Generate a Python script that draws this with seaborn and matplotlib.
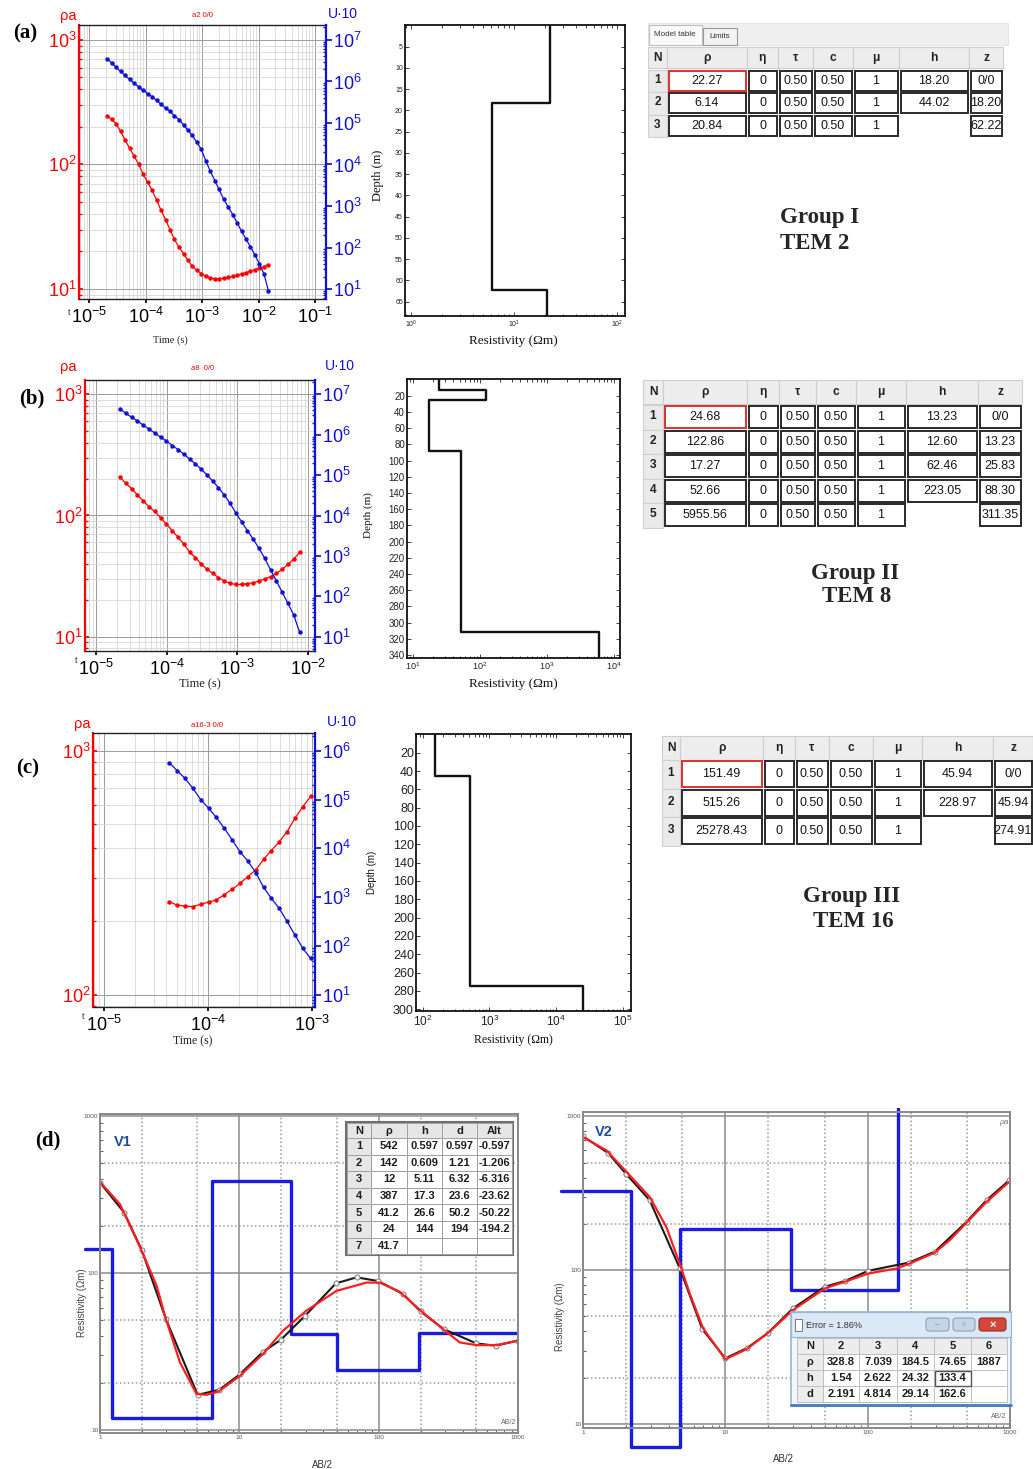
import numpy as np
import matplotlib
matplotlib.use("Agg")
import matplotlib.pyplot as plt
import seaborn as sns
from matplotlib import font_manager
from matplotlib.patches import Rectangle, FancyBboxPatch
from matplotlib.ticker import (LogLocator, LogFormatterMathtext, NullFormatter,
                               FixedLocator, FuncFormatter)
from matplotlib.transforms import Bbox, TransformedBbox

W, H = 1033, 1469

# ---- TEM sounding curves: time (s), apparent resistivity, U*10 ----
t_a = [2.1e-5, 2.5e-5, 3.0e-5, 3.6e-5, 4.3e-5, 5.2e-5, 6.2e-5, 7.5e-5, 9.0e-5, 1.08e-4,
       1.3e-4, 1.56e-4, 1.87e-4, 2.25e-4, 2.7e-4, 3.2e-4, 3.9e-4, 4.7e-4, 5.6e-4, 6.7e-4,
       8.1e-4, 9.7e-4, 1.17e-3, 1.4e-3, 1.68e-3, 2.0e-3, 2.4e-3, 2.9e-3, 3.5e-3, 4.2e-3,
       5.0e-3, 6.0e-3, 7.2e-3, 8.7e-3, 1.04e-2, 1.25e-2, 1.5e-2]
rho_a = [243, 231, 212, 184, 158, 135, 117, 101, 84, 72,
         62, 52, 43, 36, 30, 25.2, 21.7, 19.2, 17.0, 15.2,
         14.1, 13.3, 12.6, 12.3, 12.0, 12.0, 12.2, 12.4, 12.6, 12.9,
         13.2, 13.5, 13.9, 14.3, 14.7, 15.1, 15.7]
u_a = [3.5e6, 2.8e6, 2.2e6, 1.74e6, 1.40e6, 1.12e6, 9.1e5, 7.4e5, 6.2e5, 5.1e5,
       4.3e5, 3.5e5, 2.8e5, 2.3e5, 1.9e5, 1.5e5, 1.21e5, 9.0e4, 6.7e4, 5.0e4,
       3.4e4, 2.3e4, 1.2e4, 6.9e3, 4.1e3, 2.5e3, 1.48e3, 950, 620, 390,
       246, 161, 103, 65, 40, 23, 9]

t_b = [2.19e-5, 2.64e-5, 3.19e-5, 3.85e-5, 4.66e-5, 5.62e-5, 6.79e-5, 8.20e-5, 9.91e-5, 1.20e-4,
       1.45e-4, 1.75e-4, 2.11e-4, 2.55e-4, 3.08e-4, 3.72e-4, 4.49e-4, 5.42e-4, 6.55e-4, 7.91e-4,
       9.55e-4, 1.15e-3, 1.39e-3, 1.68e-3, 2.03e-3, 2.45e-3, 2.96e-3, 3.58e-3, 4.33e-3, 5.22e-3,
       6.31e-3, 7.62e-3]
rho_b = [207, 184, 167, 148, 132, 118, 108, 96, 85, 75,
         66, 58, 50, 45, 40, 36, 33.3, 30.7, 28.8, 27.5,
         27.0, 27.0, 27.4, 27.9, 28.8, 29.9, 31.3, 33.3, 36, 39.5,
         43.7, 49.7]
u_b = [4.3e6, 3.4e6, 2.7e6, 2.2e6, 1.73e6, 1.38e6, 1.10e6, 8.7e5, 7.0e5, 5.4e5,
       4.3e5, 3.3e5, 2.5e5, 1.9e5, 1.41e5, 1.02e5, 7.1e4, 4.9e4, 3.2e4, 2.0e4,
       1.15e4, 7.0e3, 4.2e3, 2.6e3, 1.54e3, 870, 450, 240, 125, 67,
       34, 13]

t_c = [4.26e-5, 5.07e-5, 6.04e-5, 7.18e-5, 8.55e-5, 1.02e-4, 1.21e-4, 1.44e-4, 1.72e-4, 2.04e-4,
       2.43e-4, 2.90e-4, 3.45e-4, 4.10e-4, 4.89e-4, 5.81e-4, 6.92e-4, 8.24e-4, 9.81e-4]
rho_c = [241, 233, 231, 230, 235, 240, 245, 257, 271, 286,
         305, 325, 359, 390, 424, 466, 528, 590, 649]
u_c = [5.7e5, 3.9e5, 2.7e5, 1.7e5, 1.0e5, 6.6e4, 4.3e4, 2.6e4, 1.49e4, 8.6e3,
       5.5e3, 3.2e3, 1.6e3, 950, 590, 320, 169, 90, 56]

# ---- layered models (model tables) ----
tem2_rho = [22.27, 6.14, 20.84]
tem2_h = [18.20, 44.02]
tem2_z = [0.0, 18.20, 62.22]

tem8_rho = [24.68, 122.86, 17.27, 52.66, 5955.56]
tem8_h = [13.23, 12.60, 62.46, 223.05]
tem8_z = [0.0, 13.23, 25.83, 88.30, 311.35]

tem16_rho = [151.49, 515.26, 25278.43]
tem16_h = [45.94, 228.97]
tem16_z = [0.0, 45.94, 274.91]

ETA, TAU, CC, MU = 0, 0.50, 0.50, 1

# ---- VES V1 ----
v1_ab_obs = [1.0, 1.49, 1.99, 2.97, 5.02, 7.18, 10.1, 14.7, 19.9, 29.7,
             49.3, 69.4, 99.3, 150, 200, 293, 502, 692, 1000]
v1_rho_obs = [377, 243, 141, 51, 16.8, 18.1, 22.7, 31.4, 37.7, 53.6,
              86, 94, 89, 73.5, 57, 44, 35.7, 34.5, 37.2]
v1_ab_fit = [1.0, 1.39, 1.99, 2.55, 2.97, 3.75, 4.93, 5.82, 7.07, 10.1, 14.8, 20.6,
             30.3, 49.7, 81.7, 102, 142, 200, 290, 382, 502, 700, 1000]
v1_rho_fit = [380, 275, 139, 83, 51, 27, 17, 16.8, 17.6, 22.2, 30.6, 43,
              57.7, 77, 87, 87, 76, 57.7, 44, 36.2, 34.8, 34.8, 37.2]
v1_rho = [542, 142, 12, 387, 41.2, 24, 41.7]
v1_h = [0.597, 0.609, 5.11, 17.3, 26.6, 144]
v1_d = [0.597, 1.21, 6.32, 23.6, 50.2, 194]
v1_alt = [-0.597, -1.206, -6.316, -23.62, -50.22, -194.2]
v1_step_start = 0.78

# ---- VES V2 ----
v2_ab_obs = [1.0, 1.50, 2.0, 2.94, 4.78, 6.90, 10.0, 14.1, 19.8, 29.9,
             50, 69.2, 101, 196, 297, 495, 685, 988]
v2_rho_obs = [741, 578, 424, 285, 103, 41.2, 26.7, 31, 38.8, 56.4,
              78, 84.9, 99, 112, 132, 206, 285, 384]
v2_ab_fit = [1.0, 1.46, 2.02, 2.94, 3.85, 4.78, 5.62, 6.98, 10.0, 14.1, 20.5,
             29.9, 50, 69.2, 101, 160, 196, 297, 378, 495, 685, 988]
v2_rho_fit = [734, 601, 435, 299, 191, 110, 70.5, 41.8, 26.3, 30.6, 39.8,
              55, 76, 84, 95, 102.5, 110, 130, 157, 203, 278, 375]
v2_rho = [328.8, 7.039, 184.5, 74.65, 1887]
v2_h = [1.54, 2.622, 24.32, 133.4]
v2_d = [2.191, 4.814, 29.14, 162.6]
v2_step_start = 0.70
v2_error = 1.86

# ---------------- style ----------------
sns.set_theme(style="white")
plt.rcParams["font.family"] = ["Liberation Sans", "DejaVu Sans"]
plt.rcParams["mathtext.fontset"] = "custom"
plt.rcParams["mathtext.rm"] = "Liberation Sans"
plt.rcParams["mathtext.it"] = "Liberation Sans:italic"
plt.rcParams["mathtext.bf"] = "Liberation Sans:bold"
SERIF = ["Liberation Serif", "DejaVu Serif"]
names = {f.name for f in font_manager.fontManager.ttflist}
if "Liberation Sans Narrow" in names:
    NARROW, NK = ["Liberation Sans Narrow", "DejaVu Sans"], 1.25
else:
    NARROW, NK = ["Liberation Sans", "DejaVu Sans"], 1.1

RED = "#ff0000"
BLUE = "#1010d8"
STEP_BLUE = "#1a1ae0"

fig = plt.figure(figsize=(W / 100, H / 100), dpi=100)


def px_axes(x0, y0, x1, y1, **kw):
    return fig.add_axes([x0 / W, 1 - y1 / H, (x1 - x0) / W, (y1 - y0) / H], **kw)


def decades(lim):
    lo, hi = np.log10(lim[0]), np.log10(lim[1])
    return [10.0 ** k for k in range(int(np.ceil(lo)), int(np.floor(hi)) + 1)]


ov = px_axes(0, 0, W, H, zorder=20)
ov.set_xlim(0, W)
ov.set_ylim(H, 0)
ov.axis("off")
ov.patch.set_alpha(0)


def tem_panel(box, t, rho, u, xlim, rho_lim, u_lim, fs=13):
    ax = px_axes(*box)
    ax.set_xscale("log")
    ax.set_yscale("log")
    ax2 = ax.twinx()
    ax2.set_yscale("log")
    sns.lineplot(x=t, y=rho, ax=ax, color=RED, linewidth=0.9, marker="o",
                 markersize=3.2, markeredgewidth=0)
    sns.lineplot(x=t, y=u, ax=ax2, color=BLUE, linewidth=0.9, marker="o",
                 markersize=3.2, markeredgewidth=0)
    ax.set_xlim(xlim)
    ax.set_ylim(rho_lim)
    ax2.set_ylim(u_lim)
    for a, lim in ((ax.xaxis, xlim), (ax.yaxis, rho_lim), (ax2.yaxis, u_lim)):
        a.set_major_locator(FixedLocator(decades(lim)))
        a.set_minor_locator(LogLocator(10, subs=np.arange(2, 10), numticks=30))
        a.set_major_formatter(LogFormatterMathtext())
        a.set_minor_formatter(NullFormatter())
    ax.set_axisbelow(True)
    ax.grid(True, which="major", color="#9c9c9c", linewidth=0.7)
    ax.grid(True, which="minor", color="#d3d3d3", linewidth=0.55)
    ax.tick_params(axis="x", which="major", bottom=True, length=3, labelsize=fs,
                   pad=3, colors="black")
    ax.tick_params(axis="x", which="minor", bottom=False)
    ax.tick_params(axis="y", which="both", left=True, colors=RED, direction="in")
    ax.tick_params(axis="y", which="major", length=3, labelsize=fs, pad=2)
    ax.tick_params(axis="y", which="minor", length=2)
    ax2.tick_params(axis="y", which="both", right=True, left=False, colors=BLUE)
    ax2.tick_params(axis="y", which="major", length=4, labelsize=fs, pad=1,
                    direction="out")
    ax2.tick_params(axis="y", which="minor", length=2, direction="in")
    for s in ("top", "bottom"):
        ax.spines[s].set_color("#222222")
        ax.spines[s].set_linewidth(1.0)
    ax.spines["left"].set_color(RED)
    ax.spines["left"].set_linewidth(1.6)
    ax.spines["right"].set_visible(False)
    ax2.spines["right"].set_color(BLUE)
    ax2.spines["right"].set_linewidth(1.6)
    for s in ("left", "top", "bottom"):
        ax2.spines[s].set_visible(False)
    ax.set_xlabel("")
    ax.set_ylabel("")
    ax2.set_ylabel("")
    return ax


def model_panel(box, rho, z, xlim, ylim, xticks, yticks, fs, xfs):
    ax = px_axes(*box)
    ax.set_xscale("log")
    xs, ys = [], []
    for i, r in enumerate(rho):
        bottom = z[i + 1] if i + 1 < len(z) else ylim[0]
        xs += [r, r]
        ys += [z[i], bottom]
    sns.lineplot(x=xs, y=ys, ax=ax, sort=False, estimator=None, color="#111111",
                 linewidth=1.7)
    ax.set_xlim(xlim)
    ax.set_ylim(ylim)
    ax.xaxis.set_major_locator(FixedLocator(xticks))
    ax.xaxis.set_major_formatter(LogFormatterMathtext())
    ax.xaxis.set_minor_locator(LogLocator(10, subs=np.arange(2, 10), numticks=30))
    ax.xaxis.set_minor_formatter(NullFormatter())
    ax.set_yticks(yticks)
    ax.tick_params(which="both", direction="in", top=True, right=True, bottom=True,
                   left=True, colors="#222222", width=0.6)
    ax.tick_params(which="major", length=3, pad=1.5)
    ax.tick_params(which="minor", length=1.8)
    ax.tick_params(axis="y", labelsize=fs)
    ax.tick_params(axis="x", labelsize=xfs, pad=2)
    for s in ax.spines.values():
        s.set_color("#111111")
        s.set_linewidth(1.3)
    ax.set_xlabel("")
    ax.set_ylabel("")
    return ax


def ves_panel(box, ylim, ab_obs, rho_obs, ab_fit, rho_fit, step_x, step_rho):
    ax = px_axes(*box)
    ax.set_xscale("log")
    ax.set_yscale("log")
    for dec in (1, 10, 100):
        for s in (2, 5):
            ax.axvline(dec * s, color="#9a9a9a", linewidth=1.1, linestyle=(0, (1, 1.6)),
                       zorder=0)
    for dec in (10, 100):
        for s in (2, 5):
            ax.axhline(dec * s, color="#9a9a9a", linewidth=1.1, linestyle=(0, (1, 1.6)),
                       zorder=0)
    ax.set_axisbelow(True)
    ax.grid(True, which="major", color="#8c8c8c", linewidth=1.1)
    sns.lineplot(x=step_x, y=step_rho, ax=ax, sort=False, estimator=None,
                 drawstyle="steps-post", color=STEP_BLUE, linewidth=2.4)
    blue = ax.lines[-1]
    blue.set_clip_box(TransformedBbox(Bbox([[-0.08, -0.12], [1.0, 1.012]]), ax.transAxes))
    sns.lineplot(x=ab_obs, y=rho_obs, ax=ax, sort=False, estimator=None,
                 color="#1a1a1a", linewidth=1.5, marker="o", markersize=3.6,
                 markerfacecolor="white", markeredgecolor="#858585",
                 markeredgewidth=0.8)
    sns.lineplot(x=ab_fit, y=rho_fit, ax=ax, sort=False, estimator=None,
                 color="#ff1f1f", linewidth=1.6)
    ax.set_xlim(1, 1000)
    ax.set_ylim(ylim)
    fmt = FuncFormatter(lambda v, _: f"{v:g}")
    ax.xaxis.set_major_locator(FixedLocator([1, 10, 100, 1000]))
    ax.yaxis.set_major_locator(FixedLocator([10, 100, 1000]))
    ax.xaxis.set_major_formatter(fmt)
    ax.yaxis.set_major_formatter(fmt)
    for a in (ax.xaxis, ax.yaxis):
        a.set_minor_locator(LogLocator(10, subs=np.arange(2, 10), numticks=30))
        a.set_minor_formatter(NullFormatter())
    ax.tick_params(which="major", labelsize=4.6, labelcolor="#555555", length=0, pad=1.2)
    ax.tick_params(which="minor", bottom=True, left=True, direction="in", length=2.5,
                   color="#666666", width=0.8)
    for s in ax.spines.values():
        s.set_color("#888888")
        s.set_linewidth(1.4)
    ax.set_xlabel("")
    ax.set_ylabel("")
    return ax


def tem_table(xe, y0, head_h, rows_y0, row_h, rho, h, z, fs):
    heads = ["N", "ρ", "η", "τ", "c", "μ", "h", "z"]
    for j, name in enumerate(heads):
        ov.add_patch(Rectangle((xe[j], y0), xe[j + 1] - xe[j], head_h,
                               facecolor="#ededed", edgecolor="#cdcdcd", linewidth=0.8))
        ov.text((xe[j] + xe[j + 1]) / 2, y0 + head_h / 2, name, ha="center",
                va="center", fontsize=fs * 0.95, fontweight="bold", color="#222222",
                family=NARROW)
    for i in range(len(rho)):
        ry = rows_y0 + i * row_h
        vals = [str(i + 1), f"{rho[i]:.2f}", f"{ETA}", f"{TAU:.2f}", f"{CC:.2f}",
                f"{MU}", f"{h[i]:.2f}" if i < len(h) else "",
                "0/0" if i == 0 else f"{z[i]:.2f}"]
        for j, v in enumerate(vals):
            x0, x1 = xe[j], xe[j + 1]
            if j == 0:
                ov.add_patch(Rectangle((x0, ry), x1 - x0, row_h, facecolor="#eaeaea",
                                       edgecolor="#d0d0d0", linewidth=0.8))
                ov.text((x0 + x1) / 2, ry + row_h / 2 - 1, v, ha="center", va="center",
                        fontsize=fs * 0.95, fontweight="bold", color="#222222")
                continue
            if v == "":
                continue
            ec = "#e03030" if (i == 0 and j == 1) else "#2a2a2a"
            ov.add_patch(Rectangle((x0 + 1.5, ry + 1), x1 - x0 - 3, row_h - 2.5,
                                   facecolor="white", edgecolor=ec, linewidth=1.4))
            ov.text((x0 + x1) / 2, ry + row_h / 2, v, ha="center", va="center",
                    fontsize=fs, color="#151515", family=NARROW)


def grid_table(xe, ye, cells, fs, head_fc="#e6e6e6", line="#a0a0a0"):
    for i in range(len(ye) - 1):
        for j in range(len(xe) - 1):
            fc = head_fc if (i == 0 or j == 0) else "white"
            ov.add_patch(Rectangle((xe[j], ye[i]), xe[j + 1] - xe[j], ye[i + 1] - ye[i],
                                   facecolor=fc, edgecolor=line, linewidth=0.7))
            ov.text((xe[j] + xe[j + 1]) / 2, (ye[i] + ye[i + 1]) / 2, cells[i][j],
                    ha="center", va="center", fontsize=fs, fontweight="bold",
                    color="#1e1e1e", family=NARROW)


# ---------------- (a) (b) (c): TEM curves ----------------
tem_panel((79, 25, 326, 299), t_a, rho_a, u_a, (6.6e-6, 0.157), (8.3, 1318), (5.75, 2.29e7))
tem_panel((85, 380, 315, 651), t_b, rho_b, u_b, (6.98e-6, 1.26e-2), (7.62, 1312), (4.43, 2.26e7))
tem_panel((93, 733, 315, 1007), t_c, rho_c, u_c, (7.83e-6, 1.08e-3), (89.3, 1180), (5.68, 2.30e6))

for (px, py, s) in [(25, 33, "(a)"), (32, 398, "(b)"), (28, 768, "(c)"), (48, 1140, "(d)")]:
    ov.text(px, py, s, ha="center", va="center", fontsize=15, fontweight="bold",
            family=SERIF, color="black")

for (ry, rx, tx, ty, title, ux, uy, tl, tlx, tly, tfs) in [
        (16, 68, 203, 15, "a2 0/0", 343, 14, (170, 340), 69, 312, 7.5),
        (367, 68, 203, 368, "a8  0/0", 340, 366, (200, 684), 76, 660, 9),
        (724, 82, 207, 725, "a16-3 0/0", 342, 722, (193, 1041), 83, 1016, 8.5)]:
    ov.text(rx, ry, "ρa", ha="center", va="center", fontsize=10.5, color=RED)
    ov.text(tx, ty, title, ha="center", va="center", fontsize=5.5, color=RED)
    ov.text(ux, uy, "U·10", ha="center", va="center", fontsize=10, color=BLUE)
    ov.text(tlx, tly, "t", ha="center", va="center", fontsize=6.5, color="#333333")
    ov.text(tl[0], tl[1], "Time (s)", ha="center", va="center", fontsize=tfs,
            family=SERIF, color="#222222")

# ---------------- model columns ----------------
model_panel((405, 25, 625, 316), tem2_rho, tem2_z, (0.875, 119.7), (68.4, -0.1),
            [1, 10, 100], list(range(5, 66, 5)), 5, 5)
model_panel((407, 379, 620, 658), tem8_rho, tem8_z, (8.13, 12300), (343.7, -0.6),
            [10, 100, 1000, 10000], list(range(20, 341, 20)), 7, 6.5)
model_panel((416, 734, 631, 1011), tem16_rho, tem16_z, (79.4, 131800), (301.9, -0.4),
            [100, 1000, 10000, 100000], list(range(20, 301, 20)), 9, 8.5)

for (dx, dy, dfs, dfam, rx, ryy, rfs) in [(378, 175, 9, SERIF, 513, 341, 9.5),
                                          (368, 515, 8, SERIF, 513, 684, 9.5),
                                          (372, 872, 7, ["Liberation Sans"], 513, 1040, 8.5)]:
    ov.text(dx, dy, "Depth (m)", rotation=90, ha="center", va="center", fontsize=dfs,
            family=dfam, color="#111111")
    ov.text(rx, ryy, "Resistivity (Ωm)", ha="center", va="center", fontsize=rfs,
            family=SERIF, color="#111111")

# ---------------- model tables ----------------
tfs = 8.2 * NK
ov.add_patch(Rectangle((648, 23), 360, 22, facecolor="#efefef", edgecolor="#e0e0e0",
                       linewidth=0.6))
ov.add_patch(Rectangle((649, 25), 53, 20, facecolor="#fafafa", edgecolor="#bdbdbd",
                       linewidth=0.8))
ov.add_patch(Rectangle((703, 28), 34, 17, facecolor="#f2f2f2", edgecolor="#9a9a9a",
                       linewidth=0.8))
ov.text(675, 34, "Model table", ha="center", va="center", fontsize=5.8, color="#333333")
ov.text(720, 36.5, "Limits", ha="center", va="center", fontsize=5.8, color="#333333")

tem_table([648, 667, 747, 778, 813, 853, 899, 969, 1003], 47, 21, 69.5, 22.5,
          tem2_rho, tem2_h, tem2_z, tfs)
tem_table([643, 663, 747, 779, 816, 856, 906, 978, 1022], 380, 24, 405, 24.5,
          tem8_rho, tem8_h, tem8_z, tfs)
tem_table([662, 680, 763, 795, 829, 873, 922, 993, 1033], 736, 24, 760, 28.5,
          tem16_rho, tem16_h, tem16_z, tfs)

gfs = 16.5
ov.text(780, 217, "Group I", ha="left", va="center", fontsize=gfs, fontweight="bold",
        family=SERIF)
ov.text(780, 243, "TEM 2", ha="left", va="center", fontsize=gfs, fontweight="bold",
        family=SERIF)
ov.text(855, 573, "Group II", ha="center", va="center", fontsize=gfs, fontweight="bold",
        family=SERIF)
ov.text(857, 596, "TEM 8", ha="center", va="center", fontsize=gfs, fontweight="bold",
        family=SERIF)
ov.text(852, 896, "Group III", ha="center", va="center", fontsize=gfs, fontweight="bold",
        family=SERIF)
ov.text(853, 921, "TEM 16", ha="center", va="center", fontsize=gfs, fontweight="bold",
        family=SERIF)

# ---------------- (d) VES curves ----------------
v1_step_x = [v1_step_start] + v1_d[1:] + [1000]
v1_step_rho = v1_rho[1:] + [v1_rho[-1]]
ves_panel((100, 1114, 518, 1433), (9.6, 1030), v1_ab_obs, v1_rho_obs, v1_ab_fit,
          v1_rho_fit, v1_step_x, v1_step_rho)

v2_step_x = [v2_step_start] + v2_d + [1000]
v2_step_rho = v2_rho + [v2_rho[-1]]
ves_panel((583, 1112, 1010, 1428), (9.4, 1067), v2_ab_obs, v2_rho_obs, v2_ab_fit,
          v2_rho_fit, v2_step_x, v2_step_rho)

ov.text(123, 1142, "V1", ha="center", va="center", fontsize=10.5, fontweight="bold",
        color="#1f4ea0")
ov.text(604, 1132, "V2", ha="center", va="center", fontsize=10.5, fontweight="bold",
        color="#1f4ea0")
ov.text(1004, 1123, "ρa", ha="center", va="center", fontsize=6, style="italic",
        color="#777777")
ov.text(516, 1423, "AB/2", ha="right", va="center", fontsize=5, color="#666666")
ov.text(1006, 1416, "AB/2", ha="right", va="center", fontsize=5, color="#666666")
ov.text(322, 1465, "AB/2", ha="center", va="center", fontsize=7, color="#333333")
ov.text(783, 1459, "AB/2", ha="center", va="center", fontsize=7, color="#333333")
ov.text(82, 1303, "Resistivity (Ωm)", rotation=90, ha="center", va="center",
        fontsize=7, color="#444444")
ov.text(560, 1317, "Resistivity (Ωm)", rotation=90, ha="center", va="center",
        fontsize=7, color="#444444")

# V1 inversion table
v1_cells = [["N", "ρ", "h", "d", "Alt"]]
for i, r in enumerate(v1_rho):
    if i < len(v1_h):
        v1_cells.append([str(i + 1), f"{r:g}", f"{v1_h[i]:g}", f"{v1_d[i]:g}",
                         f"{v1_alt[i]:g}"])
    else:
        v1_cells.append([str(i + 1), f"{r:g}", "", "", ""])
v1_ye = [1123, 1138] + [1138 + 16.6 * (k + 1) for k in range(len(v1_rho))]
ov.add_patch(Rectangle((346, 1122), 167, 133, facecolor="white", edgecolor="#6f6f6f",
                       linewidth=1.5))
grid_table([347, 371, 407, 442, 477, 512], v1_ye, v1_cells, 7.3 * NK)

# V2 error window
ov.add_patch(Rectangle((791, 1312), 220, 94, facecolor="#f3f7fb", edgecolor="#98b6d4",
                       linewidth=1.2))
ov.add_patch(Rectangle((791, 1312), 220, 25, facecolor="#dbe8f5", edgecolor="#98b6d4",
                       linewidth=0.8))
ov.add_patch(Rectangle((795, 1319), 7, 12, facecolor="white", edgecolor="#777777",
                       linewidth=0.7))
ov.text(806, 1325, f"Error = {v2_error:.2f}%", ha="left", va="center", fontsize=6.5,
        color="#333333")
ov.add_patch(FancyBboxPatch((926, 1318), 23, 13, boxstyle="round,pad=0,rounding_size=3",
                            facecolor="#c6d5e6", edgecolor="#8aa2bb", linewidth=0.8))
ov.add_patch(FancyBboxPatch((953, 1318), 22, 13, boxstyle="round,pad=0,rounding_size=3",
                            facecolor="#c6d5e6", edgecolor="#8aa2bb", linewidth=0.8))
ov.add_patch(FancyBboxPatch((979, 1318), 27, 13, boxstyle="round,pad=0,rounding_size=3",
                            facecolor="#d4473a", edgecolor="#9b2d22", linewidth=0.8))
ov.text(992.5, 1324.5, "×", ha="center", va="center", fontsize=8, color="white",
        fontweight="bold")
ov.text(964, 1324.5, "○", ha="center", va="center", fontsize=5, color="#6a7f95")
ov.text(937.5, 1325, "–", ha="center", va="center", fontsize=6, color="#6a7f95")
v2_cells = [["N"] + [str(k + 2) for k in range(len(v2_rho))],
            ["ρ"] + [f"{r:g}" for r in v2_rho],
            ["h"] + [f"{v:g}" for v in v2_h] + [""],
            ["d"] + [f"{v:g}" for v in v2_d] + [""]]
grid_table([797, 823, 859, 897, 934, 971, 1007], [1338, 1354, 1370, 1386, 1402],
           v2_cells, 7.3 * NK, head_fc="#ececec", line="#c0c0c0")
ov.add_patch(Rectangle((934.5, 1370.5), 36, 15, facecolor="none", edgecolor="#555555",
                       linewidth=1.0))
ov.plot([791, 1011], [1405, 1405], color="#3f80c2", linewidth=2)

fig.savefig("out.png", dpi=100, facecolor="white")
